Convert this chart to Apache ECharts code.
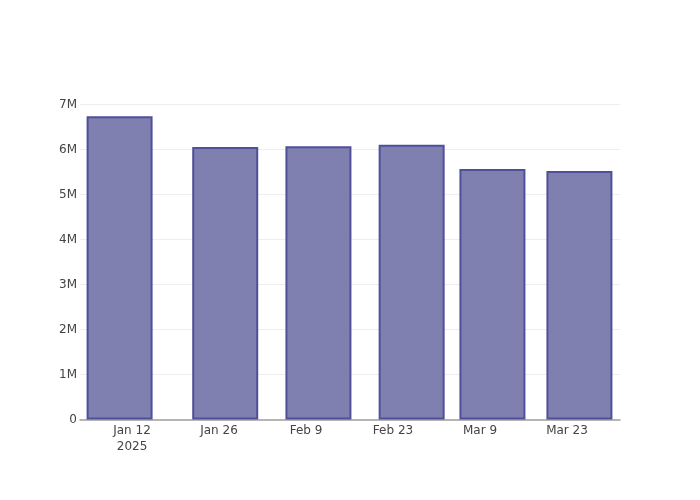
<!DOCTYPE html>
<html>
<head>
<meta charset="utf-8">
<script src="https://cdn.jsdelivr.net/npm/echarts@6/dist/echarts.min.js"></script>
<style>html,body{margin:0;padding:0;background:#fff;}#c{width:700px;height:500px;}</style>
</head>
<body>
<div id="c"></div>
<script>
const dates = ['2025-01-10', '2025-01-27', '2025-02-11', '2025-02-26', '2025-03-11', '2025-03-25'];
const values = [6740000, 6055000, 6075000, 6105000, 5565000, 5525000];
const tickDates = ['2025-01-12', '2025-01-26', '2025-02-09', '2025-02-23', '2025-03-09', '2025-03-23'];

const DAY = 86400000;
function ts(s) { const p = s.split('-').map(Number); return Date.UTC(p[0], p[1] - 1, p[2]); }
const base = ts(tickDates[0]);
function dayNum(s) { return Math.round((ts(s) - base) / DAY); }
const months = ['Jan','Feb','Mar','Apr','May','Jun','Jul','Aug','Sep','Oct','Nov','Dec'];
const tickDays = tickDates.map(dayNum);

const chart = echarts.init(document.getElementById('c'));
chart.setOption({
  animation: false,
  textStyle: { fontFamily: 'DejaVu Sans' },
  grid: { left: 80, right: 80, top: 104.5, bottom: 80.5, containLabel: false },
  xAxis: {
    type: 'value',
    min: -8.37,
    max: 78.53,
    axisLine: { show: true, onZero: false, lineStyle: { color: '#a0a0a0', width: 1.5 } },
    axisTick: { show: false },
    splitLine: { show: false },
    axisLabel: {
      customValues: tickDays,
      color: '#444',
      fontSize: 12,
      margin: 3,
      lineHeight: 16,
      hideOverlap: false,
      formatter: function (v) {
        const d = new Date(base + v * DAY);
        let s = months[d.getUTCMonth()] + ' ' + d.getUTCDate();
        if (v === tickDays[0]) s += '\n' + d.getUTCFullYear();
        return s;
      }
    }
  },
  yAxis: {
    type: 'value',
    min: 0,
    max: 7000000,
    interval: 1000000,
    axisLine: { show: false },
    axisTick: { show: false },
    splitLine: { show: true, lineStyle: { color: '#eeeeee', width: 1 } },
    axisLabel: {
      color: '#444',
      fontSize: 12,
      margin: 3,
      formatter: function (v) { return v === 0 ? '0' : (v / 1000000) + 'M'; }
    }
  },
  series: [{
    type: 'bar',
    data: dates.map((d, i) => [dayNum(d), values[i]]),
    barWidth: 66,
    itemStyle: { color: '#7f7fb0', borderColor: '#50509a', borderWidth: 2 }
  }]
});
</script>
</body>
</html>
